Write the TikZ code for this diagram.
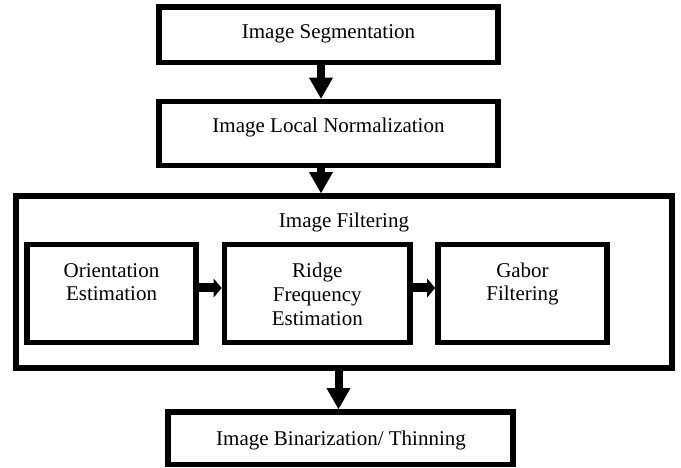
\documentclass[tikz,border=0pt]{standalone}
\usepackage{fontspec}
\setmainfont{Liberation Serif}
\usetikzlibrary{arrows.meta}
\begin{document}
\begin{tikzpicture}[x=1pt,y=-1pt,
  box/.style={draw, line width=5.7pt, inner sep=0pt, rectangle},
  lbl/.style={inner sep=0pt, anchor=base, align=center, font=\fontsize{21}{24}\selectfont},
  vert/.style={line width=8pt, -{Triangle[length=21pt 0 0, width=24pt 0 0, line width=0pt]}},
  horz/.style={line width=9pt, -{Triangle[length=8pt 0 0, width=19pt 0 0, line width=0pt]}}]
\useasboundingbox (0,0) rectangle (681,468);
% boxes
\node[box, minimum width=339pt, minimum height=55.5pt] (seg) at (328.5,34.75) {};
\node[box, minimum width=339pt, minimum height=64pt] (norm) at (328.5,133.5) {};
\node[box, minimum width=655.7pt, minimum height=172pt] (filt) at (344.15,282) {};
\node[box, minimum width=169pt, minimum height=98pt] (ori) at (111.5,293.5) {};
\node[box, minimum width=185.5pt, minimum height=98pt] (ridge) at (317.25,293.5) {};
\node[box, minimum width=169pt, minimum height=98pt] (gabor) at (522.5,293.5) {};
\node[box, minimum width=345pt, minimum height=52.5pt] (bin) at (340.5,438.25) {};
% texts (base anchor = baseline of the last line)
\node[lbl] (tseg) at (328.5,38.3) {Image Segmentation};
\node[lbl] (tnorm) at (328.5,133) {Image Local Normalization};
\node[lbl] (tfilt) at (344,228) {Image Filtering};
\node[lbl] (tori) at (111.5,301) {Orientation\\Estimation};
\node[lbl] (tridge) at (317.25,325) {Ridge\\Frequency\\Estimation};
\node[lbl] (tgabor) at (522.5,301) {Gabor\\Filtering};
\node[lbl] (tbin) at (341,445) {Image Binarization/ Thinning};
% arrows
\draw[vert] ([xshift=-7.5pt]seg.south) -- ([xshift=-7.5pt]norm.north);
\draw[vert] ([xshift=-7.5pt]norm.south) -- ([xshift=-7.5pt]norm.south |- filt.north);
\draw[vert] ([xshift=-2pt]bin.north |- filt.south) -- ([xshift=-2pt]bin.north);
\draw[horz] ([yshift=5.5pt]ori.east) -- ([yshift=5.5pt]ridge.west);
\draw[horz] ([yshift=5.5pt]ridge.east) -- ([yshift=5.5pt]gabor.west);
\end{tikzpicture}
\end{document}
